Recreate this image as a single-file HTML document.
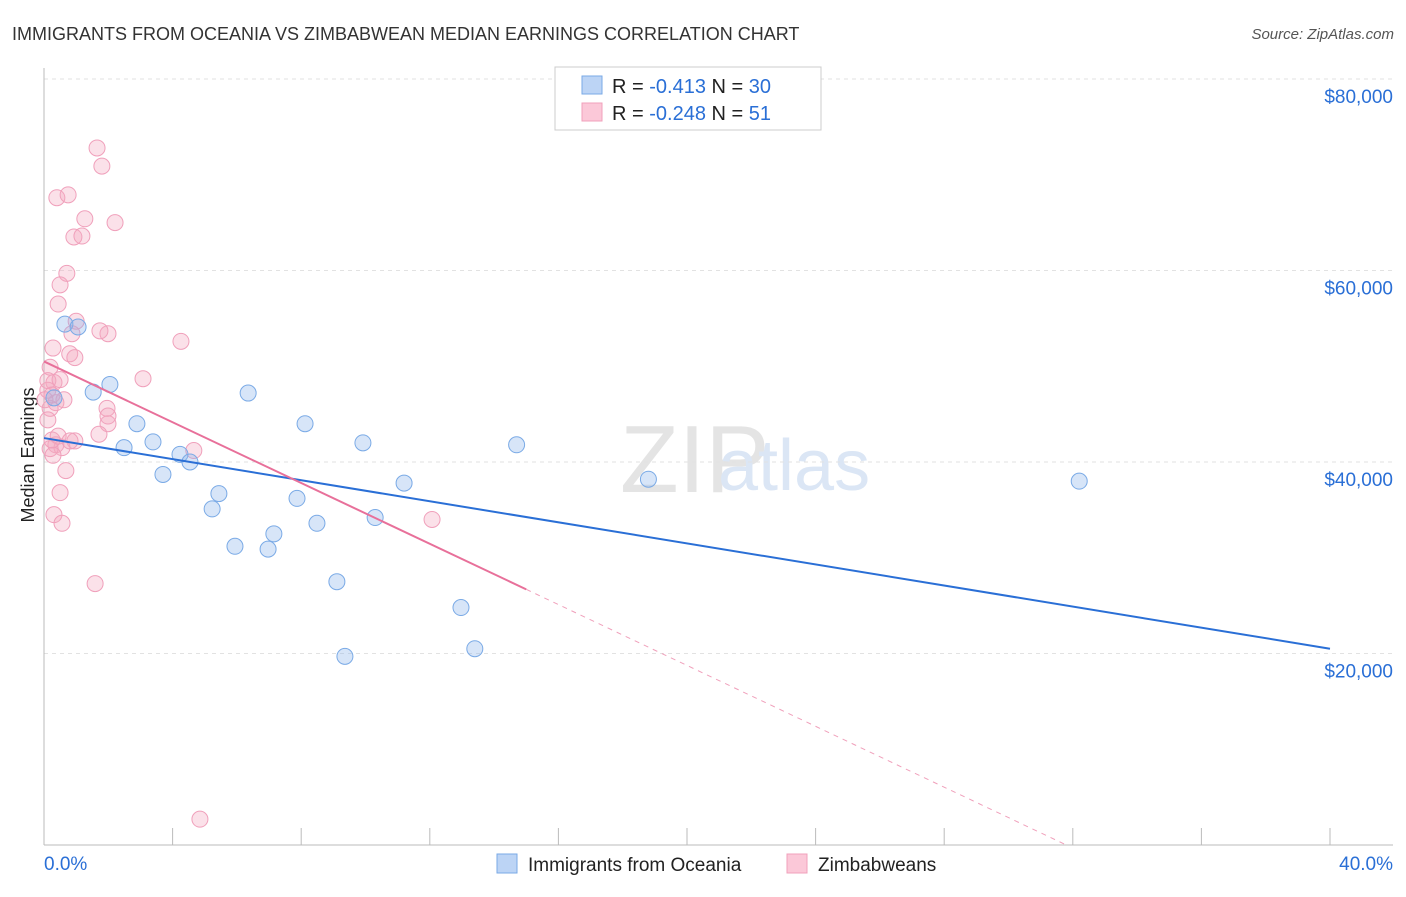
<!DOCTYPE html>
<html><head><meta charset="utf-8"><style>
body{margin:0;background:#fff;font-family:"Liberation Sans",sans-serif}
svg text{font-family:"Liberation Sans",sans-serif}
</style></head><body>
<svg id="c" width="1406" height="892">
<text x="12" y="40" font-size="18" fill="#333">IMMIGRANTS FROM OCEANIA VS ZIMBABWEAN MEDIAN EARNINGS CORRELATION CHART</text>
<text x="1394" y="39" font-size="15" fill="#555" text-anchor="end" font-style="italic">Source: ZipAtlas.com</text>
<text x="34" y="455" font-size="18" fill="#222" text-anchor="middle" transform="rotate(-90 34 455)">Median Earnings</text>
<text x="620" y="492" font-size="96" fill="#e4e4e4" font-family="Liberation Serif">ZIP</text>
<text x="718" y="490" font-size="72" fill="#dbe6f5">atlas</text>
<g id="grid"></g><g id="pts"></g><g id="lines"></g>
<g>
<rect x="555" y="67" width="266" height="63" fill="#fff" stroke="#ccc"/>
<rect x="582" y="76" width="20" height="18" fill="#bcd4f5" stroke="#7aaae6"/>
<rect x="582" y="103" width="20" height="18" fill="#fbc8d8" stroke="#f0a0bb"/>
<text x="612" y="93" font-size="20" fill="#222">R = <tspan fill="#2a6fd6">-0.413</tspan>   N = <tspan fill="#2a6fd6">30</tspan></text>
<text x="612" y="120" font-size="20" fill="#222">R = <tspan fill="#2a6fd6">-0.248</tspan>   N =  <tspan fill="#2a6fd6">51</tspan></text>
</g>
<g>
<rect x="497" y="854" width="20" height="19" fill="#bcd4f5" stroke="#7aaae6"/>
<text x="528" y="871" font-size="19" fill="#222">Immigrants from Oceania</text>
<rect x="787" y="854" width="20" height="19" fill="#fbc8d8" stroke="#f0a0bb"/>
<text x="818" y="871" font-size="19" fill="#222">Zimbabweans</text>
</g>
</svg>
<script>
const yTicks=[20000,40000,60000,80000];
const yTickLabels=["$20,000","$40,000","$60,000","$80,000"];
const xTicks=[0,4,8,12,16,20,24,28,32,36,40];
const oceaniaX=[0.65,1.06,0.31,1.53,2.05,2.89,2.49,3.39,3.70,4.23,4.54,5.23,5.44,5.94,6.35,6.97,7.15,7.87,8.12,8.49,9.11,9.36,9.92,10.3,11.2,12.97,13.4,14.7,18.8,32.2];
const oceaniaY=[54400,54100,46700,47300,48100,44000,41500,42100,38700,40800,40000,35100,36700,31200,47200,30900,32500,36200,44000,33600,27500,19700,42000,34200,37800,24800,20500,41800,38200,38000];
const zimX=[1.65,1.8,0.4,0.75,1.27,2.21,0.93,1.18,0.71,0.5,0.44,1.0,0.87,1.99,4.26,0.8,0.96,0.19,0.31,3.08,0.12,0.37,0.19,1.96,1.99,1.71,0.96,0.37,0.56,0.19,0.28,4.66,0.68,0.5,0.31,0.56,12.07,1.59,4.85,0.12,0.25,1.99,0.44,0.12,0.25,0.62,0.81,0.03,1.74,0.5,0.28];
const zimY=[72800,70900,67600,67900,65400,65000,63500,63600,59700,58500,56500,54700,53400,53400,52600,51300,50900,49900,48300,48700,47500,46200,45600,45600,44000,42900,42200,41800,41500,41400,40700,41200,39100,36800,34500,33600,34000,27300,2700,44400,42300,44800,42700,48500,47000,46500,42200,46500,53700,48600,51900];
const blueLine=[[0,42500],[40,20500]];
const pinkLine=[[0,50500],[15,26700]];
const pinkDash=[[15,26700],[31.8,0]];
const NS="http://www.w3.org/2000/svg";
const X=v=>44+v/40*1286, Y=v=>845-v/20000*191.5;
function mk(t,a,p){const e=document.createElementNS(NS,t);for(const k in a)e.setAttribute(k,a[k]);p.appendChild(e);return e;}
const g=document.getElementById('grid');
yTicks.forEach((t,i)=>{const l=mk('line',{x1:44,x2:1393,y1:Y(t),y2:Y(t),stroke:'#e2e2e2','stroke-dasharray':'4 4'},g);

const tx=mk('text',{x:1393,y:Y(t)+24,'font-size':19,fill:'#2a6fd6','text-anchor':'end'},g);tx.textContent=yTickLabels[i];
});
const ax=mk('line',{x1:44,x2:1393,y1:845,y2:845,stroke:'#bbb'},g);

const ay=mk('line',{x1:44,x2:44,y1:68,y2:845,stroke:'#bbb'},g);

xTicks.forEach(t=>{const l=mk('line',{x1:X(t),x2:X(t),y1:828,y2:845,stroke:'#bbb'},g);
});
const t0=mk('text',{x:44,y:870,'font-size':19,fill:'#2a6fd6'},g);t0.textContent='0.0%';

const t1=mk('text',{x:1393,y:870,'font-size':19,fill:'#2a6fd6','text-anchor':'end'},g);t1.textContent='40.0%';

const p=document.getElementById('pts');
zimX.forEach((x,i)=>{const c=mk('circle',{cx:X(x),cy:Y(zimY[i]),r:8,fill:'rgba(244,168,192,0.35)',stroke:'#f0a0bb','stroke-width':1},p);
});
oceaniaX.forEach((x,i)=>{const c=mk('circle',{cx:X(x),cy:Y(oceaniaY[i]),r:8,fill:'rgba(140,180,235,0.35)',stroke:'#7aaae6','stroke-width':1},p);
});
const L=document.getElementById('lines');
const bl=mk('line',{x1:X(blueLine[0][0]),y1:Y(blueLine[0][1]),x2:X(blueLine[1][0]),y2:Y(blueLine[1][1]),stroke:'#2a6fd6','stroke-width':2},L);

const pl=mk('line',{x1:X(pinkLine[0][0]),y1:Y(pinkLine[0][1]),x2:X(pinkLine[1][0]),y2:Y(pinkLine[1][1]),stroke:'#e8709a','stroke-width':2},L);

const pd=mk('line',{x1:X(pinkDash[0][0]),y1:Y(pinkDash[0][1]),x2:X(pinkDash[1][0]),y2:Y(pinkDash[1][1]),stroke:'#f0a0bb','stroke-width':1,'stroke-dasharray':'5 5'},L);

</script>
</body></html>
